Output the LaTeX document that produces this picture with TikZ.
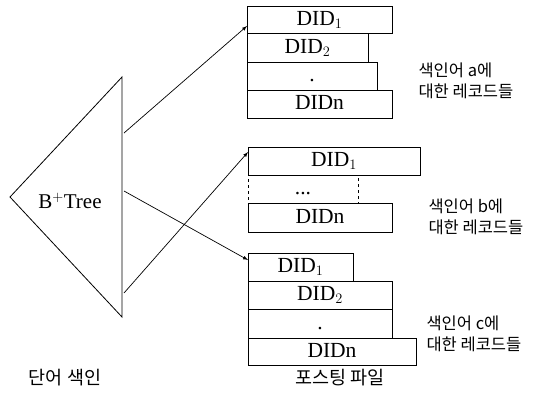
\documentclass[tikz,border=0pt]{standalone}
\usepackage{fontspec}
\setmainfont{Liberation Serif}
\newfontfamily\kr{Noto Sans CJK KR}
\usetikzlibrary{calc}

\tikzset{rec/.style={draw,anchor=north west,inner sep=0,outer sep=0,line width=0.9pt,text height=14pt,text depth=3pt,font=\fontsize{21.5}{24}\selectfont},
  lbl/.style={anchor=west,align=left,font=\kr\fontsize{16.5}{21}\selectfont}}

\begin{document}
\begin{tikzpicture}[x=1pt,y=-1pt]
\useasboundingbox (0,0) rectangle (536,402);
\draw[line width=0.8pt] (122,77)--(10,197)--(122,317)--cycle;
\node[font=\fontsize{21}{24}\selectfont] (bt) at (70,201) {B$^+$Tree};

\node[rec,minimum width=145pt,minimum height=27pt] (a1) at (247,6) {DID$_1$};
\node[rec,minimum width=121pt,minimum height=29pt] (a2) at (a1.south west) {DID$_2$};
\node[rec,minimum width=130pt,minimum height=28pt] (a3) at (a2.south west) {.};
\node[rec,minimum width=145pt,minimum height=28pt] (a4) at (a3.south west) {DIDn};

\node[rec,minimum width=172pt,minimum height=28pt] (b1) at (248,147) {DID$_1$};
\node[rec,dashed,minimum width=110pt,minimum height=28pt] (b2) at (b1.south west) {...};
\node[rec,minimum width=144pt,minimum height=29pt] (b3) at (b2.south west) {DIDn};

\node[rec,minimum width=105pt,minimum height=28pt] (c1) at (248,253) {DID$_1$};
\node[rec,minimum width=144pt,minimum height=28pt] (c2) at (c1.south west) {DID$_2$};
\node[rec,minimum width=144pt,minimum height=29pt] (c3) at (c2.south west) {.};
\node[rec,minimum width=168pt,minimum height=27pt] (c4) at (c3.south west) {DIDn};

\coordinate (pa) at (124,133);
\coordinate (pb) at (124,293);
\coordinate (pc) at (124,191);
\draw[-latex,line width=0.7pt] (pa)--($(a1.north west)!0.74!(a1.south west)$);
\draw[-latex,line width=0.7pt] (pb)--($(b1.north west)!0.18!(b1.south west)$);
\draw[-latex,line width=0.7pt] (pc)--($(c1.north west)!0.25!(c1.south west)$);

\node[lbl] (la) at (415,81) {색인어 a에\\대한 레코드들};
\node[lbl] (lb) at (425,217) {색인어 b에\\대한 레코드들};
\node[lbl] (lc) at (423,334) {색인어 c에\\대한 레코드들};

\node[font=\kr\fontsize{18.5}{20}\selectfont] (idx) at (65,378) {단어 색인};
\node[font=\kr\fontsize{18.5}{20}\selectfont] (pf) at (340,378) {포스팅 파일};
\end{tikzpicture}
\end{document}
